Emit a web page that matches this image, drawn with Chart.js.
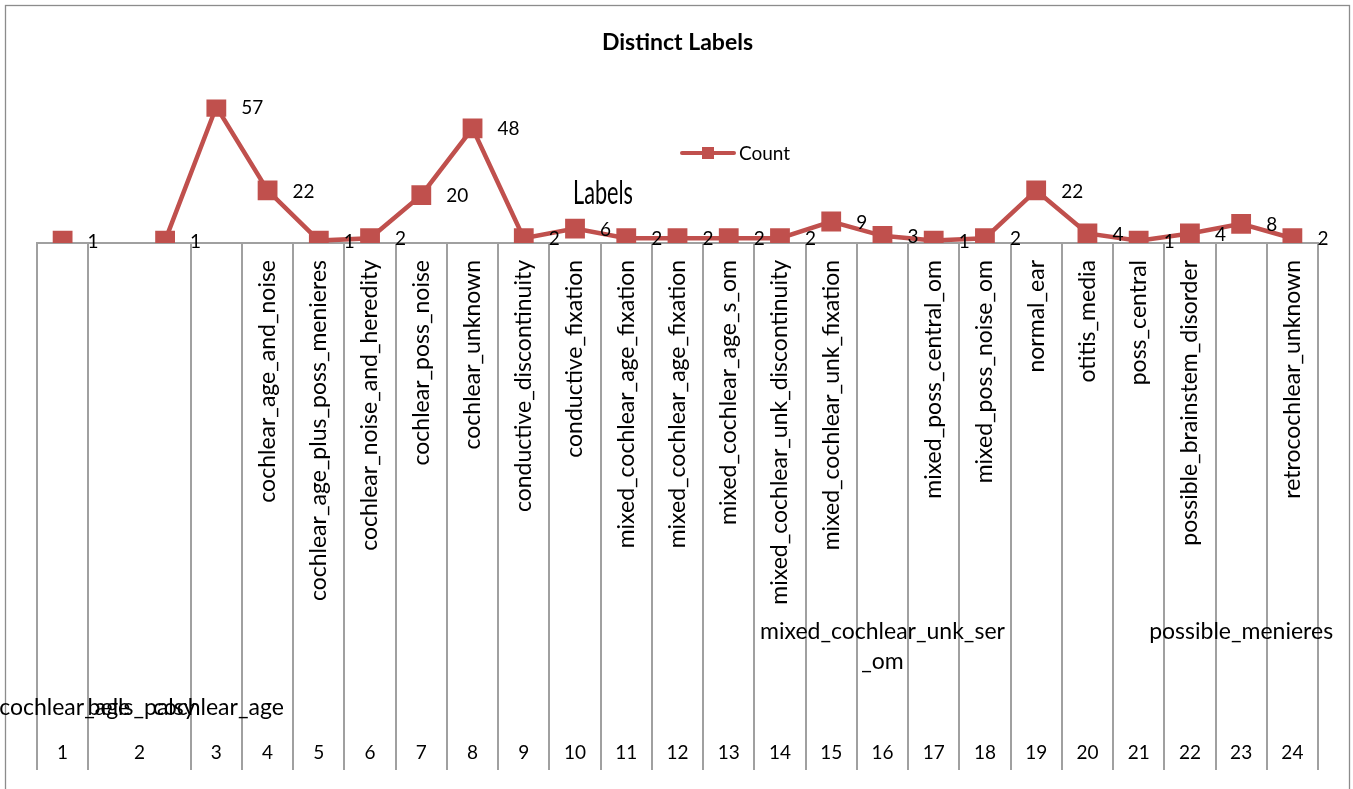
<!DOCTYPE html>
<html><head><meta charset="utf-8">
<script src="https://cdn.jsdelivr.net/npm/chart.js@4.4.0/dist/chart.umd.min.js"></script>
<style>html,body{margin:0;padding:0;background:#fff;overflow:hidden}#wrap{width:1353px;height:789px;position:relative}</style>
</head><body><div id="wrap"><canvas id="c" width="1353" height="789" style="width:1353px;height:789px"></canvas></div>
<script>
// ---- data ----
const slotLabels = ['', '', '', '', 'cochlear_age_and_noise', 'cochlear_age_plus_poss_menieres',
  'cochlear_noise_and_heredity', 'cochlear_poss_noise', 'cochlear_unknown', 'conductive_discontinuity',
  'conductive_fixation', 'mixed_cochlear_age_fixation', 'mixed_cochlear_age_fixation', 'mixed_cochlear_age_s_om',
  'mixed_cochlear_unk_discontinuity', 'mixed_cochlear_unk_fixation', '', 'mixed_poss_central_om',
  'mixed_poss_noise_om', 'normal_ear', 'otitis_media', 'poss_central', 'possible_brainstem_disorder', '',
  'retrocochlear_unknown'];
const counts = [1, null, 1, 57, 22, 1, 2, 20, 48, 2, 6, 2, 2, 2, 2, 9, 3, 1, 2, 22, 4, 1, 4, 8, 2];
const groupNumbers = ['1','2','3','4','5','6','7','8','9','10','11','12','13','14','15','16','17','18','19','20','21','22','23','24'];
const groupSlotCounts = [1,2,1,1,1,1,1,1,1,1,1,1,1,1,1,1,1,1,1,1,1,1,1,1];
const groupMidLabels = ['','','','','','','','','','','','','','','',['mixed_cochlear_unk_ser','_om'],'','','','','','','possible_menieres',''];
const groupLowLabels = ['cochlear_age','bells_palsy','cochlear_age','','','','','','','','','','','','','','','','','','','','',''];
const seriesName = 'Count';
const yMin = 0, yMax = 60;

// ---- style ----
const RED = '#C0504D';
const GRAY = '#A0A0A0';
const FONT = 'Lato, "Open Sans", sans-serif';

const extras = {
  id: 'extras',
  afterDraw(chart) {
    const ctx = chart.ctx;
    const xs = chart.scales.x;
    const meta = chart.getDatasetMeta(0);
    ctx.save();
    // outer border
    ctx.strokeStyle = '#8C8C8C'; ctx.lineWidth = 1.3;
    ctx.strokeRect(5.5, 5.5, 1344, 800);
    // data labels
    ctx.fillStyle = '#000'; ctx.font = '19px ' + FONT;
    ctx.textAlign = 'left'; ctx.textBaseline = 'middle';
    meta.data.forEach((p, i) => {
      if (counts[i] == null) return;
      ctx.fillText(String(counts[i]), p.x + 25, p.y + 1);
    });
    // group rows
    let slot = 0;
    groupNumbers.forEach((g, gi) => {
      const n = groupSlotCounts[gi];
      const x0 = xs.getPixelForTick(slot), x1 = xs.getPixelForTick(slot + n - 1);
      const cx = (x0 + x1) / 2;
      ctx.textAlign = 'center'; ctx.textBaseline = 'middle';
      ctx.font = '19px ' + FONT;
      ctx.fillText(g, cx, 753);
      ctx.font = '23px ' + FONT;
      const mid = groupMidLabels[gi];
      if (mid) {
        const lines = Array.isArray(mid) ? mid : [mid];
        lines.forEach((t, li) => ctx.fillText(t, cx, 632 + li * 30));
      }
      if (groupLowLabels[gi]) ctx.fillText(groupLowLabels[gi], cx + 2, 708);
      slot += n;
    });
    // legend
    const ly = 153;
    ctx.strokeStyle = RED; ctx.lineWidth = 4; ctx.lineCap = 'round';
    ctx.beginPath(); ctx.moveTo(682, ly); ctx.lineTo(734, ly); ctx.stroke();
    ctx.fillStyle = RED; ctx.fillRect(702, ly - 6, 12, 12);
    ctx.fillStyle = '#000'; ctx.font = '19px ' + FONT; ctx.textAlign = 'left';
    ctx.fillText(chart.data.datasets[0].label, 739, ly + 1);
    // axis title
    ctx.save();
    ctx.font = '32px ' + FONT;
    const w = ctx.measureText('Labels').width;
    ctx.translate(603, 194);
    ctx.scale(60 / w, 1);
    ctx.textAlign = 'center'; ctx.textBaseline = 'middle';
    ctx.fillText('Labels', 0, 0);
    ctx.restore();
    ctx.restore();
  }
};

new Chart(document.getElementById('c'), {
  type: 'line',
  data: {
    labels: slotLabels,
    datasets: [{
      label: seriesName,
      data: counts,
      borderColor: RED,
      backgroundColor: RED,
      borderWidth: 4.5,
      pointStyle: 'rect',
      pointRadius: 14,
      pointBorderWidth: 0,
      pointHoverRadius: 14,
      spanGaps: false,
      tension: 0
    }]
  },
  options: {
    responsive: false,
    animation: false,
    events: [],
    layout: { padding: { left: 37, right: 35, top: 0, bottom: 19 } },
    plugins: {
      legend: { display: false },
      tooltip: { enabled: false },
      title: {
        display: true, text: 'Distinct Labels', color: '#000',
        font: { family: FONT, size: 23, weight: 'bold' },
        padding: { top: 29, bottom: 43 }
      }
    },
    scales: {
      y: { display: false, min: yMin, max: yMax },
      x: {
        offset: true,
        afterFit(s) { s.height = 527; },
        border: { display: true, color: GRAY, width: 2 },
        grid: {
          offset: true, drawOnChartArea: false, drawTicks: true, tickLength: 527, lineWidth: 2,
          color: (c) => (c.index === 2 ? 'rgba(0,0,0,0)' : GRAY)
        },
        ticks: {
          autoSkip: false, maxRotation: 90, minRotation: 90, padding: -510,
          color: '#000', font: { family: FONT, size: 23 }
        }
      }
    }
  },
  plugins: [extras]
});
</script></body></html>
